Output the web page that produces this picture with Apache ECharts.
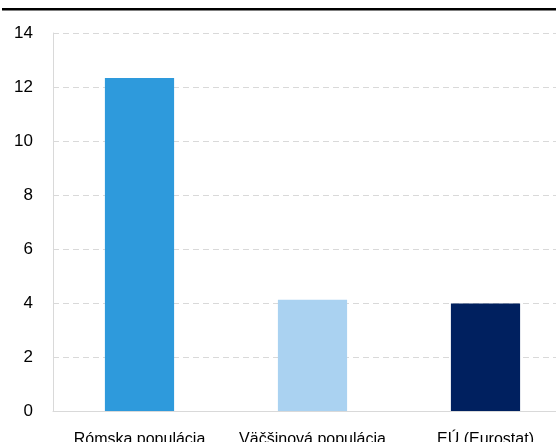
<!DOCTYPE html>
<html><head><meta charset="utf-8">
<script src="https://cdn.jsdelivr.net/npm/echarts@6/dist/echarts.min.js"></script>
<style>html,body{margin:0;padding:0;background:#fff}#c{width:556px;height:442px}</style>
</head><body><div id="c"></div>
<script>
const categories = ["Rómska populácia", "Väčšinová populácia", "EÚ (Eurostat)"];
const values = [12.33, 4.12, 3.98];
const barColors = ["#2E9ADC", "#AAD2F1", "#00205F"];
const yTicks = [0, 2, 4, 6, 8, 10, 12, 14];

const chart = echarts.init(document.getElementById('c'));
chart.setOption({
  animation: false,
  graphic: [{type:'rect', shape:{x:2,y:8,width:556,height:2.5}, style:{fill:'#000'}}],
  grid: {left: 53, width: 519, top: 33, bottom: 31, containLabel: false, outerBoundsMode: 'none'},
  xAxis: {
    type: 'category', data: categories,
    axisLine: {lineStyle: {color: '#d9d9d9', width: 1}},
    axisTick: {show: false},
    axisLabel: {color: '#000', interval: 0, fontFamily: 'Liberation Sans, Arial', fontSize: 16, margin: 21}
  },
  yAxis: {
    type: 'value', min: 0, max: 14, interval: 2,
    axisLine: {show: true, lineStyle: {color: '#d9d9d9', width: 1}},
    axisTick: {show: false},
    splitLine: {lineStyle: {color: '#d9d9d9', type: [6, 4], width: 1}},
    axisLabel: {color: '#000', fontFamily: 'Liberation Sans, Arial', fontSize: 17, margin: 20,
      formatter: v => yTicks.includes(v) ? String(v) : ''}
  },
  series: [{
    type: 'bar', barWidth: '40%',
    data: values.map((v, i) => ({value: v, itemStyle: {color: barColors[i]}}))
  }]
});
</script></body></html>
